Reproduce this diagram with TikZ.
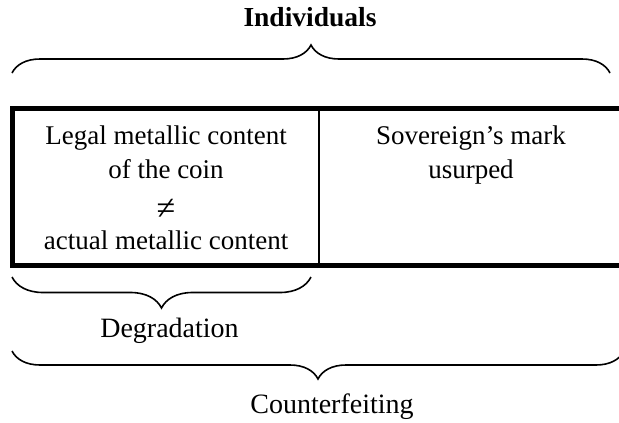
\documentclass[tikz,border=0pt]{standalone}
\usepackage{fontspec}
\setmainfont{Liberation Serif}
\usetikzlibrary{decorations.pathreplacing}
\tikzset{
  txt/.style={anchor=base, inner sep=0pt, font=\fontsize{27}{33}\selectfont},
  lbl/.style={anchor=base, inner sep=0pt, font=\fontsize{28}{34}\selectfont},
  ttl/.style={anchor=base, inner sep=0pt, font=\bfseries\fontsize{27.5}{33}\selectfont},
  cell/.style={draw, line width=1.5pt, minimum height=157pt, inner sep=0pt, outer sep=0pt, anchor=north west},
  frame/.style={line width=5pt},
  bracedeco/.style={decorate, decoration={brace, amplitude=#1}, line width=1.6pt}
}
\begin{document}
\begin{tikzpicture}[x=1pt,y=1pt]
\useasboundingbox (0,0) rectangle (619,-423);
% cells
\node[cell, minimum width=306.5pt] (L) at (12.5,-108.5) {};
\node[cell, minimum width=306pt] (R) at (319,-108.5) {};
\draw[frame] (L.north west) rectangle (R.south east);
% texts in cells
\node[txt] (l1) at (166,-144) {Legal metallic content};
\node[txt] (l2) at (166,-178) {of the coin};
\node[txt, font=\fontsize{34}{34}\selectfont] (l3) at (166,-219) {≠};
\node[txt] (l4) at (166,-249) {actual metallic content};
\node[txt] (r1) at (471,-144.5) {Sovereign’s mark};
\node[txt] (r2) at (471,-178) {usurped};
% braces
\coordinate (ia) at (12,-73);
\coordinate (ib) at (610,-73);
\draw[bracedeco=28pt] (ia) -- (ib);
\node[ttl] (ind) at (310,-27) {Individuals};
\coordinate (da) at (311,-277);
\coordinate (db) at (12,-277);
\draw[bracedeco=31pt] (da) -- (db);
\node[lbl] (deg) at (169.5,-337) {Degradation};
\coordinate (ca) at (624,-351);
\coordinate (cb) at (12,-351);
\draw[bracedeco=28pt] (ca) -- (cb);
\node[lbl] (cnt) at (332,-413) {Counterfeiting};
\end{tikzpicture}
\end{document}
